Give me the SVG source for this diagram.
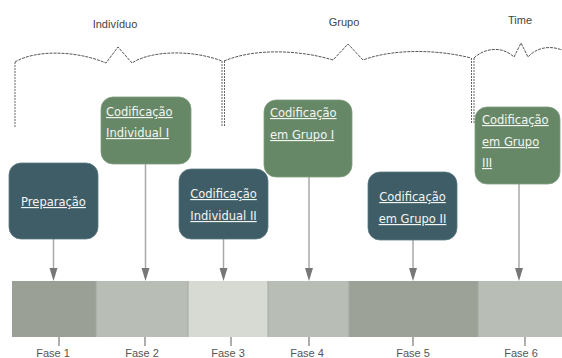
<svg xmlns="http://www.w3.org/2000/svg" width="562" height="358" viewBox="0 0 562 358">
<style>
.brace{fill:none;stroke:#555;stroke-width:1;stroke-dasharray:3 1}
.vline{fill:none;stroke:#666;stroke-width:1;stroke-dasharray:2 1}
.top{font-family:"Liberation Sans",Arial,sans-serif;font-size:11px;fill:#444;text-anchor:middle}
.fase{font-family:"Liberation Sans",Arial,sans-serif;font-size:11px;fill:#555;text-anchor:middle}
.teal{fill:#3e5d66;stroke:#5a7880;stroke-width:0.8}
.green{fill:#678866;stroke:#7e9c7d;stroke-width:0.8}
.lbl{font-family:"DejaVu Sans",Verdana,sans-serif;font-size:11.5px;fill:#f4f6f4;text-decoration:underline}
.c{text-anchor:middle}
.conn{stroke:#a8a8a8;stroke-width:1.5;fill:none}
.tick{stroke:#777;stroke-width:1.2}
</style>
<defs>
<marker id="ah" markerWidth="9" markerHeight="13" refX="4.5" refY="12.5" orient="auto" markerUnits="userSpaceOnUse" viewBox="0 0 9 13">
<path d="M0,0 L9,0 L4.5,13 Z" fill="#777" transform="rotate(-90 4.5 6.5) translate(0 0)"/>
</marker>
</defs>
<rect width="562" height="358" fill="#fff"/>
<g id="groups">
<text class="top" x="115" y="28">Indivíduo</text>
<text class="top" x="344" y="26">Grupo</text>
<text class="top" x="520" y="24">Time</text>
<path class="brace" d="M15,62 C35,50 75,50 106,63 L118,47 L132,63 C150,51 190,49 222,61"/>
<path class="brace" d="M224,61 C255,48 300,50 333,60 L348,44 L363,60 C395,48 440,50 471,58"/>
<path class="brace" d="M474,58 C482,50 500,44 514,57 L521,43 L528,57 C538,46 552,46 562,50"/>
<line class="vline" x1="15" y1="62" x2="15" y2="127"/>
<line class="vline" x1="222" y1="61" x2="222" y2="127"/>
<line class="vline" x1="224.5" y1="61" x2="224.5" y2="127"/>
<line class="vline" x1="471.5" y1="58" x2="471.5" y2="123"/>
<line class="vline" x1="474" y1="58" x2="474" y2="123"/>
</g>
<g id="timeline">
<rect x="12" y="281" width="84" height="56" fill="#9aa096"/>
<rect x="96" y="281" width="92" height="56" fill="#b8bdb6"/>
<rect x="188" y="281" width="80" height="56" fill="#d6dad3"/>
<rect x="268" y="281" width="81" height="56" fill="#b8bdb6"/>
<rect x="349" y="281" width="129" height="56" fill="#9ca298"/>
<rect x="478" y="281" width="84" height="56" fill="#b8bdb6"/>
<g stroke="#a3a8a1" stroke-width="1">
<line x1="96" y1="281" x2="96" y2="337"/>
<line x1="188" y1="281" x2="188" y2="337"/>
<line x1="268" y1="281" x2="268" y2="337"/>
<line x1="349" y1="281" x2="349" y2="337"/>
<line x1="478" y1="281" x2="478" y2="337"/>
</g>
<line class="tick" x1="59" y1="337" x2="59" y2="346"/>
<line class="tick" x1="145" y1="337" x2="145" y2="346"/>
<line class="tick" x1="231" y1="337" x2="231" y2="346"/>
<line class="tick" x1="309" y1="337" x2="309" y2="346"/>
<line class="tick" x1="413" y1="337" x2="413" y2="346"/>
<line class="tick" x1="525" y1="337" x2="525" y2="346"/>
<text class="fase" x="53" y="357">Fase 1</text>
<text class="fase" x="142" y="357">Fase 2</text>
<text class="fase" x="228" y="357">Fase 3</text>
<text class="fase" x="307" y="357">Fase 4</text>
<text class="fase" x="413" y="357">Fase 5</text>
<text class="fase" x="521" y="357">Fase 6</text>
</g>
<g id="connectors">
<line class="conn" x1="53.5" y1="239" x2="53.5" y2="270"/>
<line class="conn" x1="145.5" y1="164" x2="145.5" y2="270"/>
<line class="conn" x1="223.5" y1="239" x2="223.5" y2="270"/>
<line class="conn" x1="309" y1="177" x2="309" y2="270"/>
<line class="conn" x1="413" y1="240" x2="413" y2="270"/>
<line class="conn" x1="519" y1="184" x2="519" y2="270"/>
<g fill="#777">
<path d="M49.5,268 L57.5,268 L53.5,281 Z"/>
<path d="M141.5,268 L149.5,268 L145.5,281 Z"/>
<path d="M219.5,268 L227.5,268 L223.5,281 Z"/>
<path d="M305,268 L313,268 L309,281 Z"/>
<path d="M409,268 L417,268 L413,281 Z"/>
<path d="M515,268 L523,268 L519,281 Z"/>
</g>
</g>
<g id="node-preparacao">
<rect class="teal" x="9" y="163" width="89" height="76" rx="12"/>
<text class="lbl c" x="53.5" y="206">Preparação</text>
</g>
<g id="node-ind1">
<rect class="green" x="101" y="97" width="90" height="67" rx="12"/>
<text class="lbl" x="106" y="116">Codificação</text>
<text class="lbl" x="106" y="137">Individual I</text>
</g>
<g id="node-ind2">
<rect class="teal" x="179" y="169" width="89" height="70" rx="12"/>
<text class="lbl c" x="223.5" y="198">Codificação</text>
<text class="lbl c" x="223.5" y="220">Individual II</text>
</g>
<g id="node-grupo1">
<rect class="green" x="264" y="100" width="88" height="77" rx="12"/>
<text class="lbl" x="270" y="117">Codificação</text>
<text class="lbl" x="270" y="139">em Grupo I</text>
</g>
<g id="node-grupo2">
<rect class="teal" x="368" y="172" width="89" height="68" rx="12"/>
<text class="lbl c" x="412.5" y="201">Codificação</text>
<text class="lbl c" x="412.5" y="223">em Grupo II</text>
</g>
<g id="node-grupo3">
<rect class="green" x="475" y="107" width="85" height="77" rx="12"/>
<text class="lbl" x="482" y="124">Codificação</text>
<text class="lbl" x="482" y="146">em Grupo</text>
<text class="lbl" x="482" y="167">III</text>
</g>
</svg>
